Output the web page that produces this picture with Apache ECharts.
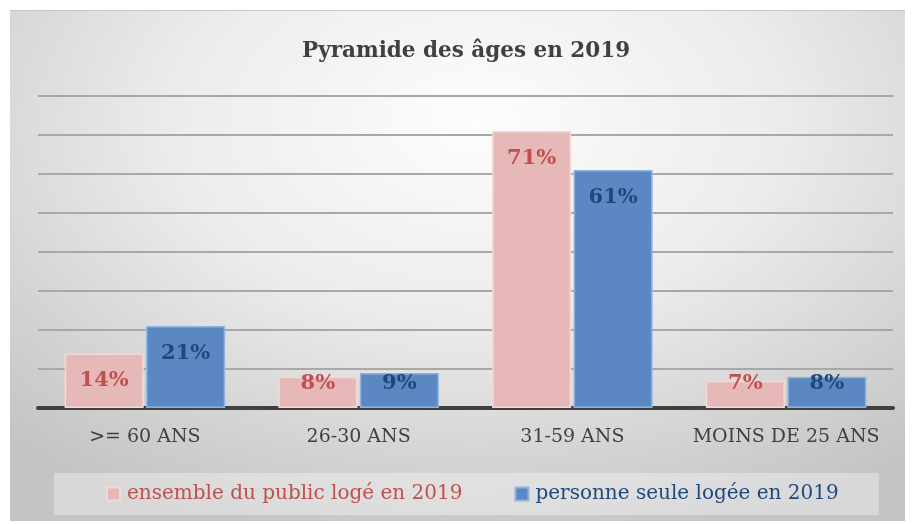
<!DOCTYPE html>
<html>
<head>
<meta charset="utf-8">
<script src="https://cdn.jsdelivr.net/npm/echarts@6/dist/echarts.min.js"></script>
<style>
html,body{margin:0;padding:0;background:#fff;}
#frame{position:absolute;left:10px;top:10px;width:895px;height:510px;border-top:1px solid #c8c8c8;
background:radial-gradient(ellipse 75% 85% at 52% 22%, #fdfdfd 0%, #ececec 45%, #d2d2d2 80%, #c4c4c4 100%);}
#chart{position:absolute;left:0;top:0;width:912px;height:524px;}
</style>
</head>
<body>
<div id="frame"></div>
<div id="chart"></div>
<script>
const categories = ['>= 60 ANS', '26-30 ANS', '31-59 ANS', 'MOINS DE 25 ANS'];
const seriesNames = ['ensemble du public logé en 2019', 'personne seule logée en 2019'];
const publicValues = [14, 8, 71, 7];
const seuleValues = [21, 9, 61, 8];
const titleText = 'Pyramide des âges en 2019';

const FONT = '"DejaVu Serif", serif';
const fills = ['#e6b9b8', '#5b88c2'];
const borders = ['#f2d9d8', '#8fb2de'];
const labelColors = ['#c0504d', '#1f497d'];

function buildData(values) {
  return values.map(v => ({
    value: v,
    label: v >= 12
      ? { position: 'insideTop', distance: 17 }
      : { position: 'insideBottom', distance: 14 }
  }));
}

const chart = echarts.init(document.getElementById('chart'), null, { renderer: 'canvas' });
chart.setOption({
  backgroundColor: 'transparent',
  animation: false,
  title: {
    text: titleText,
    left: 297,
    top: 35,
    textStyle: { fontFamily: FONT, fontWeight: 'bold', fontSize: 21.5, color: '#404040' }
  },
  legend: {
    data: seriesNames.map((n, i) => ({ name: n, textStyle: { color: labelColors[i] } })),
    bottom: 9,
    left: 54,
    icon: 'rect',
    itemWidth: 13,
    itemHeight: 13,
    itemGap: 52,
    padding: [11, 40, 11, 52],
    backgroundColor: 'rgba(255,255,255,0.35)',
    textStyle: { fontFamily: FONT, fontSize: 20, padding: [0, 0, 0, 2] }
  },
  grid: { left: 38, right: 19, top: 96, bottom: 116, containLabel: false },
  xAxis: {
    type: 'category',
    data: categories,
    axisLine: { lineStyle: { color: '#404040', width: 4 } },
    axisTick: { show: false },
    axisLabel: { interval: 0, fontFamily: FONT, fontSize: 19, color: '#404040', margin: 20 }
  },
  yAxis: {
    type: 'value',
    min: 0,
    max: 80,
    interval: 10,
    axisLabel: { show: false },
    axisLine: { show: false },
    axisTick: { show: false },
    splitLine: { lineStyle: { color: '#a8a8a8', width: 2 } }
  },
  series: [publicValues, seuleValues].map((vals, i) => ({
    name: seriesNames[i],
    type: 'bar',
    data: buildData(vals),
    barWidth: '37%',
    barGap: '3%',
    itemStyle: { color: fills[i], borderColor: borders[i], borderWidth: 1.5 },
    label: {
      show: true,
      formatter: '{c}%',
      fontFamily: FONT,
      fontWeight: 'bold',
      fontSize: 21,
      color: labelColors[i]
    }
  }))
});
</script>
</body>
</html>
